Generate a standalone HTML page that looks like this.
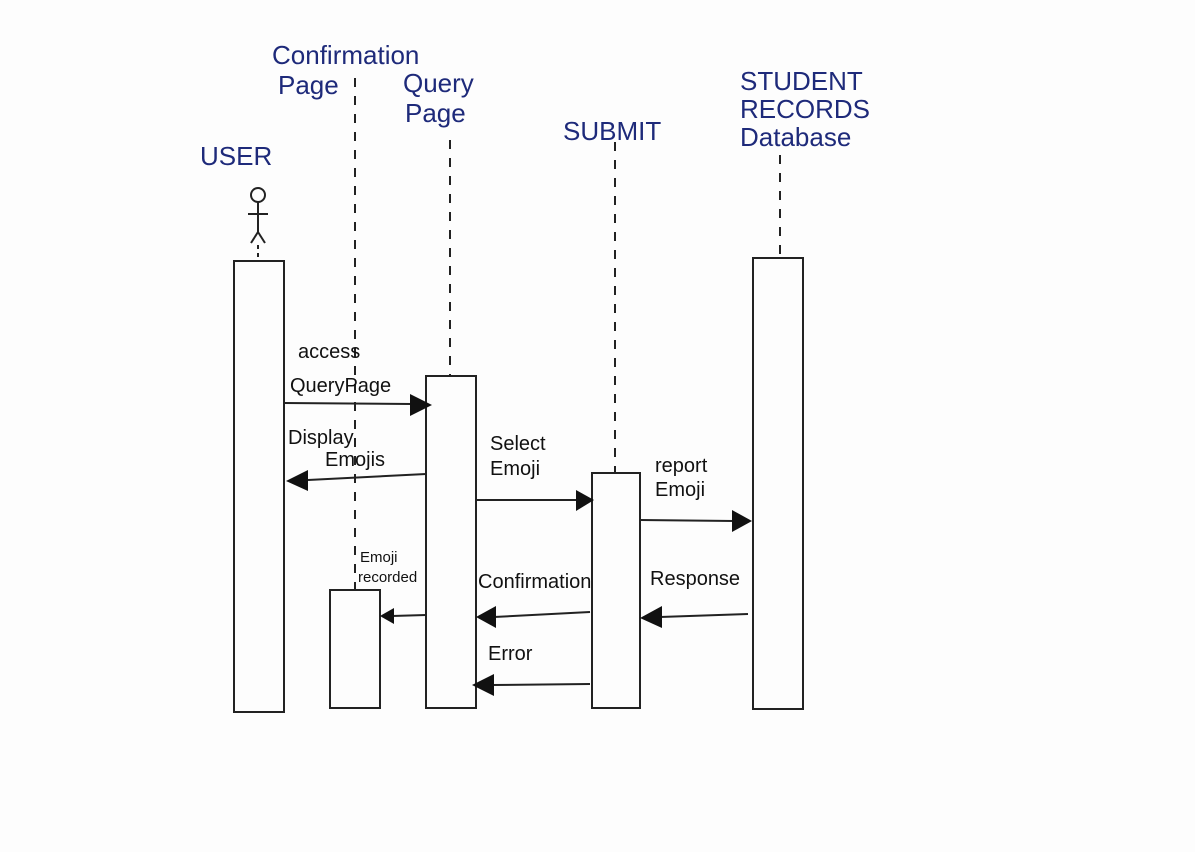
<!DOCTYPE html>
<html><head><meta charset="utf-8"><style>
html,body{margin:0;padding:0;background:#fdfdfd;}
svg{display:block}
text{font-family:"Liberation Sans",sans-serif;}
.b{fill:#1e2a7a;font-size:26px;}
.k{fill:#111;font-size:20px;}
</style></head><body>
<svg width="1195" height="852" viewBox="0 0 1195 852" xmlns="http://www.w3.org/2000/svg">
<rect width="1195" height="852" fill="#fdfdfd"/>
<g stroke="#222" stroke-width="2" fill="none">
<!-- lifelines -->
<line x1="355" y1="78" x2="355" y2="590" stroke-dasharray="9,9"/>
<line x1="450" y1="140" x2="450" y2="376" stroke-dasharray="9,9"/>
<line x1="615" y1="142" x2="615" y2="472" stroke-dasharray="9,9"/>
<line x1="780" y1="155" x2="780" y2="257" stroke-dasharray="9,9"/>
<!-- boxes -->
<rect x="234" y="261" width="50" height="451"/>
<rect x="330" y="590" width="50" height="118"/>
<rect x="426" y="376" width="50" height="332"/>
<rect x="592" y="473" width="48" height="235"/>
<rect x="753" y="258" width="50" height="451"/>
<!-- actor -->
<circle cx="258" cy="195" r="7"/>
<line x1="258" y1="202" x2="258" y2="232"/>
<line x1="248" y1="214" x2="268" y2="214"/>
<line x1="258" y1="232" x2="251" y2="243"/>
<line x1="258" y1="232" x2="265" y2="243"/>
<line x1="258" y1="245" x2="258" y2="260" stroke-dasharray="4,4"/>
<!-- arrows -->
<line x1="284" y1="403" x2="412" y2="404"/>
<line x1="426" y1="474" x2="308" y2="480"/>
<line x1="476" y1="500" x2="576" y2="500"/>
<line x1="640" y1="520" x2="734" y2="521"/>
<line x1="748" y1="614" x2="660" y2="617"/>
<line x1="590" y1="612" x2="494" y2="617"/>
<line x1="590" y1="684" x2="492" y2="685"/>
<line x1="426" y1="615" x2="392" y2="616"/>
</g>
<g fill="#111">
<polygon points="410,394 432,405 410,416"/>
<polygon points="308,470 286,481 308,491"/>
<polygon points="576,490 594,500 576,511"/>
<polygon points="732,510 752,521 732,532"/>
<polygon points="662,606 640,618 662,628"/>
<polygon points="496,606 476,617 496,628"/>
<polygon points="494,674 472,685 494,696"/>
<polygon points="394,608 380,616 394,624"/>
</g>
<!-- labels -->
<text class="b" x="200" y="165">USER</text>
<text class="b" x="272" y="64">Confirmation</text>
<text class="b" x="278" y="94">Page</text>
<text class="b" x="403" y="92">Query</text>
<text class="b" x="405" y="122">Page</text>
<text class="b" x="563" y="140">SUBMIT</text>
<text class="b" x="740" y="90">STUDENT</text>
<text class="b" x="740" y="118">RECORDS</text>
<text class="b" x="740" y="146">Database</text>
<text class="k" x="298" y="358">access</text>
<text class="k" x="290" y="392">QueryPage</text>
<text class="k" x="288" y="444">Display</text>
<text class="k" x="325" y="466">Emojis</text>
<text class="k" x="490" y="450">Select</text>
<text class="k" x="490" y="475">Emoji</text>
<text class="k" x="655" y="472">report</text>
<text class="k" x="655" y="496">Emoji</text>
<text class="k" x="650" y="585">Response</text>
<text class="k" x="478" y="588">Confirmation</text>
<text class="k" x="488" y="660">Error</text>
<text class="k" x="360" y="562" style="font-size:15px">Emoji</text>
<text class="k" x="358" y="582" style="font-size:15px">recorded</text>
</svg>
</body></html>
